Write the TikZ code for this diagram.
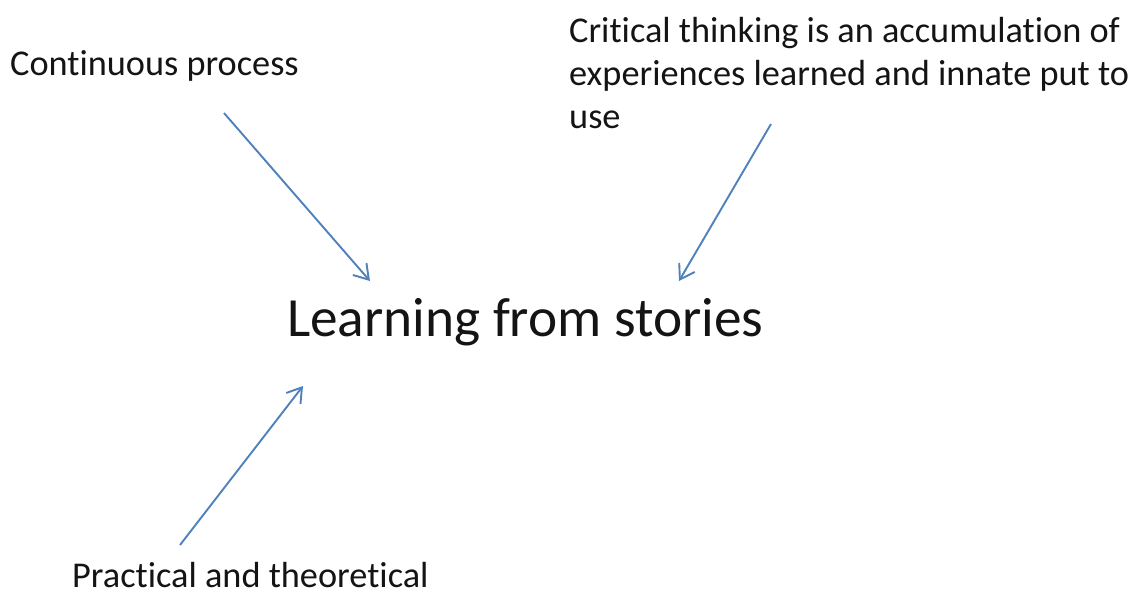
\documentclass[tikz,border=0pt]{standalone}
\usepackage{fontspec}
\setmainfont{Carlito}[Ligatures=NoCommon]
\usetikzlibrary{arrows.meta}
\definecolor{arrowblue}{RGB}{79,129,189}
\definecolor{txt}{RGB}{20,20,20}
\tikzset{
  lbl/.style={anchor=base west, inner sep=0pt, text=txt, font=\fontsize{36.3}{43}\selectfont},
  mainlbl/.style={anchor=base west, inner sep=0pt, text=txt, font=\fontsize{55.3}{66}\selectfont},
  conn/.style={draw=arrowblue, line width=1.9pt, -{Straight Barb[length=14pt,width=18pt,line width=1.9pt]}}
}
\begin{document}
\begin{tikzpicture}[x=1pt,y=-1pt]
\useasboundingbox[fill=white] (0,0) rectangle (1136,597);
\node[lbl] (cont) at (10,75) {Continuous process};
\node[lbl, align=left, anchor=north west] (crit) at (569,17) {Critical thinking is an accumulation of\\experiences learned and innate put to\\use};
\node[mainlbl] (main) at (287,336) {Learning from stories};
\node[lbl] (prac) at (72,587) {Practical and theoretical};
\coordinate (a1s) at (224,113);
\coordinate (a1e) at (370,281);
\coordinate (a2s) at (771,124);
\coordinate (a2e) at (679,281);
\coordinate (a3s) at (180,545);
\coordinate (a3e) at (303,386);
\draw[conn] (a1s) -- (a1e);
\draw[conn] (a2s) -- (a2e);
\draw[conn] (a3s) -- (a3e);
\end{tikzpicture}
\end{document}
